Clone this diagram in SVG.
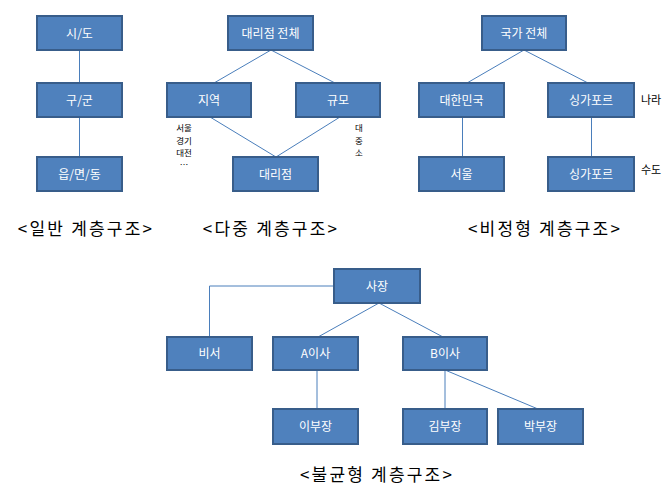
<svg xmlns="http://www.w3.org/2000/svg" width="669" height="488" viewBox="0 0 669 488">
<style>
.b rect{fill:#4F81BD;stroke:#385D8A;stroke-width:2}
.b text{fill:#fff;font-family:"Noto Sans CJK KR","Noto Sans",sans-serif;font-size:12px;text-anchor:middle}
.c{stroke:#4A7EBB;stroke-width:1;fill:none}
.cap{font-family:"Noto Sans CJK KR",sans-serif;font-size:17px;letter-spacing:2.2px;fill:#000;text-anchor:middle}
.s{font-family:"Noto Sans CJK KR",sans-serif;font-size:8.5px;fill:#000;text-anchor:middle}
.l{font-family:"Noto Sans CJK KR",sans-serif;font-size:11px;fill:#000}
</style>
<rect width="669" height="488" fill="#fff"/>
<g id="connectors" class="c">
<line x1="79.5" y1="50" x2="79.5" y2="83"/>
<line x1="79.5" y1="117" x2="79.5" y2="157"/>
<line x1="271" y1="50" x2="214" y2="83"/>
<line x1="271" y1="50" x2="335" y2="83"/>
<line x1="210" y1="117" x2="276" y2="157"/>
<line x1="340" y1="117" x2="276" y2="157"/>
<line x1="524" y1="50" x2="467" y2="83"/>
<line x1="524" y1="50" x2="588" y2="83"/>
<line x1="462.5" y1="117" x2="462.5" y2="157"/>
<line x1="591.5" y1="117" x2="591.5" y2="157"/>
<polyline points="334,286 209.5,286 209.5,337"/>
<line x1="379" y1="303" x2="318" y2="337"/>
<line x1="379" y1="303" x2="443" y2="337"/>
<line x1="317" y1="370" x2="317" y2="409"/>
<line x1="445" y1="370" x2="445" y2="409"/>
<line x1="445" y1="370" x2="538" y2="409"/>
</g>
<g id="n-sido" class="b"><rect x="37" y="16" width="85" height="34"/><text x="79.5" y="37.5">시/도</text></g>
<g id="n-gugun" class="b"><rect x="37" y="83" width="85" height="34"/><text x="79.5" y="104.5">구/군</text></g>
<g id="n-eup" class="b"><rect x="37" y="157" width="85" height="34"/><text x="79.5" y="178.5">읍/면/동</text></g>
<g id="n-dall" class="b"><rect x="228" y="16" width="85" height="34"/><text x="270.5" y="37.5">대리점 전체</text></g>
<g id="n-region" class="b"><rect x="167" y="83" width="84" height="34"/><text x="209" y="104.5">지역</text></g>
<g id="n-size" class="b"><rect x="296" y="83" width="84" height="34"/><text x="338" y="104.5">규모</text></g>
<g id="n-dealer" class="b"><rect x="233" y="157" width="85" height="34"/><text x="275.5" y="178.5">대리점</text></g>
<g id="n-country" class="b"><rect x="482" y="16" width="84" height="34"/><text x="524" y="37.5">국가 전체</text></g>
<g id="n-korea" class="b"><rect x="419" y="83" width="85" height="34"/><text x="461.5" y="104.5">대한민국</text></g>
<g id="n-sg1" class="b"><rect x="548" y="83" width="86" height="34"/><text x="591" y="104.5">싱가포르</text></g>
<g id="n-seoul" class="b"><rect x="419" y="157" width="85" height="34"/><text x="461.5" y="178.5">서울</text></g>
<g id="n-sg2" class="b"><rect x="548" y="157" width="86" height="34"/><text x="591" y="178.5">싱가포르</text></g>
<g id="n-ceo" class="b"><rect x="334" y="269" width="86" height="34"/><text x="377" y="290.5">사장</text></g>
<g id="n-sec" class="b"><rect x="167" y="337" width="85" height="33"/><text x="209.5" y="358">비서</text></g>
<g id="n-a" class="b"><rect x="273" y="337" width="85" height="33"/><text x="315.5" y="358">A이사</text></g>
<g id="n-b" class="b"><rect x="403" y="337" width="84" height="33"/><text x="445" y="358">B이사</text></g>
<g id="n-lee" class="b"><rect x="273" y="409" width="85" height="35"/><text x="315.5" y="431">이부장</text></g>
<g id="n-kim" class="b"><rect x="403" y="409" width="84" height="35"/><text x="445" y="431">김부장</text></g>
<g id="n-park" class="b"><rect x="498" y="409" width="85" height="35"/><text x="540.5" y="431">박부장</text></g>
<g id="labels">
<text class="s" x="184" y="131">서울</text>
<text class="s" x="184" y="143.5">경기</text>
<text class="s" x="184" y="156">대전</text>
<text class="s" x="184" y="168">…</text>
<text class="s" x="359" y="131">대</text>
<text class="s" x="359" y="143.5">중</text>
<text class="s" x="359" y="156">소</text>
<text class="l" x="641" y="104">나라</text>
<text class="l" x="641" y="174">수도</text>
<text class="cap" x="86" y="235">&lt;일반 계층구조&gt;</text>
<text class="cap" x="271" y="235">&lt;다중 계층구조&gt;</text>
<text class="cap" x="545" y="235">&lt;비정형 계층구조&gt;</text>
<text class="cap" x="377" y="481">&lt;불균형 계층구조&gt;</text>
</g>
</svg>
